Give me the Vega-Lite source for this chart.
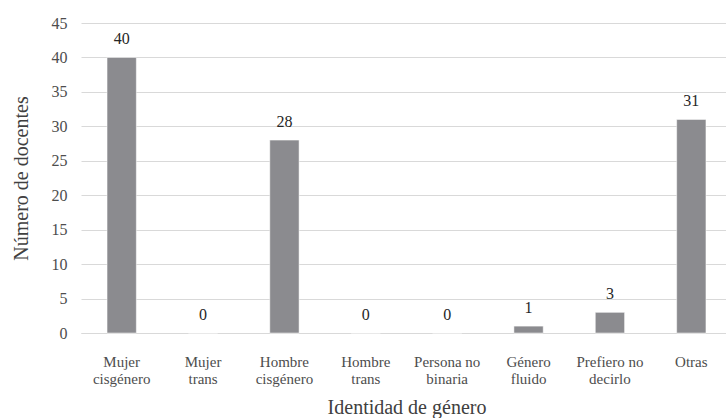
{
  "$schema": "https://vega.github.io/schema/vega-lite/v6.json",
  "autosize": "none",
  "padding": {"left": 81, "top": 23, "right": 0, "bottom": 85},
  "width": 651,
  "height": 310,
  "background": "white",
  "config": {
    "view": {"stroke": null},
    "font": "Liberation Serif",
    "text": {"font": "Liberation Serif"},
    "axis": {"labelFont": "Liberation Serif", "titleFont": "Liberation Serif", "titleFontWeight": "normal"}
  },
  "data": {
    "values": [
      {"cat": "Mujer|cisgénero", "n": 40},
      {"cat": "Mujer|trans", "n": 0},
      {"cat": "Hombre|cisgénero", "n": 28},
      {"cat": "Hombre|trans", "n": 0},
      {"cat": "Persona no|binaria", "n": 0},
      {"cat": "Género|fluido", "n": 1},
      {"cat": "Prefiero no|decirlo", "n": 3},
      {"cat": "Otras", "n": 31}
    ]
  },
  "encoding": {
    "x": {
      "field": "cat", "type": "nominal", "sort": null,
      "scale": {"paddingInner": 0.64, "paddingOuter": 0.32},
      "axis": {
        "title": "Identidad de género",
        "titleFont": "Liberation Serif",
        "titleFontSize": 20,
        "titleColor": "#404040",
        "titlePadding": 11,
        "labelFont": "serif",
        "labelExpr": "split(datum.label, '|')",
        "labelAngle": 0,
        "labelFontSize": 15,
        "labelLineHeight": 17,
        "labelColor": "#4d4d4d",
        "labelPadding": 21,
        "ticks": false,
        "domain": true,
        "domainColor": "#d9d9d9",
        "labelLimit": 200
      }
    },
    "y": {
      "field": "n", "type": "quantitative",
      "scale": {"domain": [0, 45]},
      "axis": {
        "title": "Número de docentes",
        "titleFont": "Liberation Serif",
        "titleFontSize": 20,
        "titleColor": "#404040",
        "titlePadding": 20,
        "labelFont": "Liberation Serif",
        "values": [0, 5, 10, 15, 20, 25, 30, 35, 40, 45],
        "labelFontSize": 16,
        "labelColor": "#4d4d4d",
        "labelPadding": 14,
        "ticks": false,
        "domain": false,
        "gridColor": "#d9d9d9",
        "gridWidth": 1
      }
    }
  },
  "layer": [
    {"mark": {"type": "bar", "color": "#8b8b8f", "stroke": "#ffffff", "strokeWidth": 0.5}},
    {
      "mark": {"type": "text", "baseline": "bottom", "dy": -10, "fontSize": 16, "color": "#262626", "font": "Liberation Serif"},
      "encoding": {"text": {"field": "n", "type": "quantitative"}}
    }
  ]
}
